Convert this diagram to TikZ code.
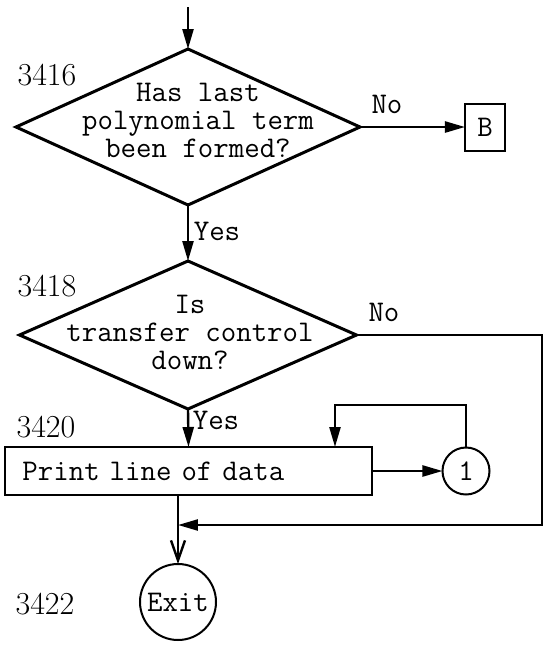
\documentclass[tikz,border=0pt]{standalone}
\usetikzlibrary{shapes.geometric,arrows.meta,positioning}

\begin{document}
\begin{tikzpicture}[x=0.5pt, y=-0.5pt,
    decision/.style={diamond, draw, line width=1.5pt, inner sep=0pt, outer sep=0pt},
    procbox/.style={rectangle, draw, line width=1pt, outer sep=0pt},
    connector/.style={circle, draw, line width=1pt, inner sep=0pt, outer sep=0pt},
    typed/.style={font=\ttfamily\fontsize{15}{14}\selectfont},
    stepno/.style={font=\fontsize{16}{18}\selectfont},
    flow/.style={line width=1.2pt, -{Triangle[length=10pt,width=5.5pt]}}]

    % Page size of the chart
    \useasboundingbox (0,0) rectangle (544,645);

    % Decision 3416
    \node (d1) [decision, minimum width=172pt, minimum height=78pt] at (188,127) {};
    \node (q1) [typed, align=center] at (198,120) {Has last\\polynomial term\\been formed?};
    \node (n3416) [stepno] at (47,75) {3416};
    \node (B) [procbox, typed, minimum width=20pt, minimum height=23.5pt] at (485,127) {B};
    \node (no1) [typed] at (387,104) {No};
    \node (yes1) [typed] at (217,231) {Yes};

    % Decision 3418
    \node (d2) [decision, minimum width=168.5pt, minimum height=74pt] at (188,335) {};
    \node (q2) [typed, align=center] at (190,332) {Is\\transfer control\\down?};
    \node (n3418) [stepno] at (47,286) {3418};
    \node (no2) [typed] at (384,312) {No};
    \node (yes2) [typed] at (216,420) {Yes};

    % Print step 3420
    \node (n3420) [stepno] at (46,427) {3420};
    \node (print) [procbox, typed, minimum width=183.5pt, minimum height=24pt,
        text width=166pt, inner xsep=8.5pt, align=left] at (188.5,471) {Print line of data};
    \node (one) [connector, typed, minimum size=23.5pt] at (466,471) {1};

    % Exit 3422
    \node (n3422) [stepno] at (45,604) {3422};
    \node (exit) [connector, typed, minimum size=38pt] at (178,602) {Exit};

    % Flow lines
    \coordinate (start) at (188,7);
    \coordinate (looptop) at (335,405);
    \coordinate (rbend) at (542,525);
    \coordinate (join) at (178,525);

    \draw[flow] (start) -- (d1.north);
    \draw[flow] (d1.east) -- (B.west);
    \draw[flow] (d1.south) -- (d2.north);
    \draw[flow] (d2.south) -- (print.north);
    \draw[flow] (print.east) -- (one.west);
    \draw[flow] (one.north) |- (looptop) -- (looptop |- print.north);
    \draw[flow] (d2.east) -| (rbend) -- (join);
    \draw[line width=1.2pt, -{Straight Barb[length=10pt,width=7pt]}] (exit.north |- print.south) -- (exit.north);

\end{tikzpicture}
\end{document}
